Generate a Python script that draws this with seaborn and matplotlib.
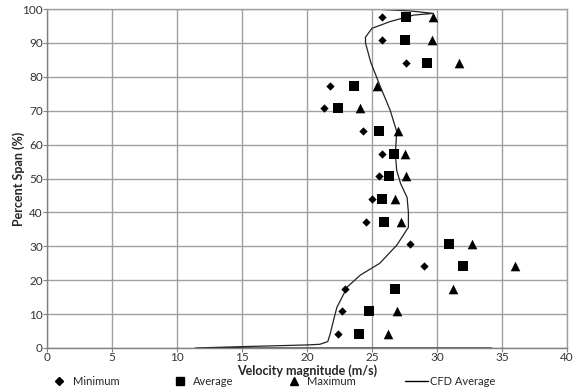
import matplotlib
matplotlib.use("Agg")
import matplotlib.pyplot as plt
import seaborn as sns
import pandas as pd
from matplotlib.lines import Line2D

# Data
span = [97.6, 90.8, 84.2, 77.4, 70.7, 63.9, 57.3, 50.6, 44.0, 37.3, 30.8, 24.1, 17.5, 10.8, 4.0]
vel_min = [25.8, 25.8, 27.6, 21.8, 21.3, 24.3, 25.8, 25.5, 25.0, 24.5, 27.9, 29.0, 22.9, 22.7, 22.4]
vel_avg = [27.6, 27.5, 29.2, 23.6, 22.4, 25.5, 26.7, 26.3, 25.8, 25.9, 30.9, 32.0, 26.8, 24.8, 24.0]
vel_max = [29.7, 29.6, 31.7, 25.4, 24.1, 27.0, 27.5, 27.6, 26.8, 27.2, 32.7, 36.0, 31.2, 26.9, 26.2]

cfd_x = [34.2, 11.4, 15.0, 20.0, 21.0, 21.6, 21.8, 22.1, 22.3, 23.1, 24.1, 25.6, 26.9, 27.8,
         27.8, 27.7, 27.2, 26.9, 26.8, 26.9, 26.4, 25.6, 24.9, 24.5, 24.5, 25.0, 26.4, 28.2,
         29.7, 28.0, 25.6, 19.2, 11.4]
cfd_y = [0.0, 0.0, 0.4, 0.9, 1.1, 1.9, 4.4, 9.1, 12.0, 18.0, 21.5, 25.0, 30.3, 35.6,
         40.0, 44.4, 48.5, 52.4, 57.3, 63.9, 70.1, 77.5, 84.3, 90.0, 91.7, 94.3, 96.3, 98.2,
         98.7, 99.4, 99.9, 100.0, 100.0]

x_ticks = [0, 5, 10, 15, 20, 25, 30, 35, 40]
y_ticks = [0, 10, 20, 30, 40, 50, 60, 70, 80, 90, 100]
legend_labels = ["Minimum", "Average", "Maximum", "CFD Average"]

sns.set_theme(style="white")
plt.rcParams['font.family'] = ['Lato', 'DejaVu Sans']

fig = plt.figure(figsize=(5.75, 3.87), dpi=100)
ax = fig.add_axes([47/575, 1 - 348/387, 520/575, 339/387])

cfd_df = pd.DataFrame({"x": cfd_x, "y": cfd_y})
sns.lineplot(data=cfd_df, x="x", y="y", sort=False, estimator=None, color="#222222",
             linewidth=0.9, ax=ax, legend=False)

sns.scatterplot(x=vel_min, y=span, marker="D", s=18, color="black", edgecolor="black",
                linewidth=0, ax=ax, legend=False, zorder=3)
sns.scatterplot(x=vel_avg, y=span, marker="s", s=46, color="black", edgecolor="black",
                linewidth=0, ax=ax, legend=False, zorder=3)
sns.scatterplot(x=vel_max, y=span, marker="^", s=48, color="black", edgecolor="black",
                linewidth=0, ax=ax, legend=False, zorder=3)

ax.set_xlim(0, 40)
ax.set_ylim(0, 100)
ax.set_xticks(x_ticks)
ax.set_yticks(y_ticks)
ax.grid(True, color="#a0a0a0", linewidth=1.0)
ax.set_axisbelow(True)
for sp in ax.spines.values():
    sp.set_color("#a0a0a0")
    sp.set_linewidth(1.0)
ax.spines['left'].set_color("#808080")
ax.spines['bottom'].set_color("#808080")
ax.tick_params(axis="both", labelsize=8.5, labelcolor="#333333", color="#808080",
               length=3, width=0.8, direction="out", pad=0)
ax.tick_params(left=True, bottom=True)

ax.set_xlabel("Velocity magnitude (m/s)", fontsize=9, fontweight="bold", labelpad=0.5)
ax.set_ylabel("Percent Span (%)", fontsize=9, fontweight="bold", labelpad=-2)

handles = [
    Line2D([], [], marker="D", linestyle="none", color="black", markersize=4),
    Line2D([], [], marker="s", linestyle="none", color="black", markersize=5.5),
    Line2D([], [], marker="^", linestyle="none", color="black", markersize=6),
    Line2D([], [], color="black", linewidth=1.0),
]
fig.legend(handles, legend_labels, loc="center left", bbox_to_anchor=(47.5/575, 1 - 381.5/387),
           ncol=4, frameon=False, fontsize=8, columnspacing=4.4, handlelength=2.07,
           handletextpad=0.18, borderpad=0, borderaxespad=0)

fig.savefig("out.png", dpi=100)
